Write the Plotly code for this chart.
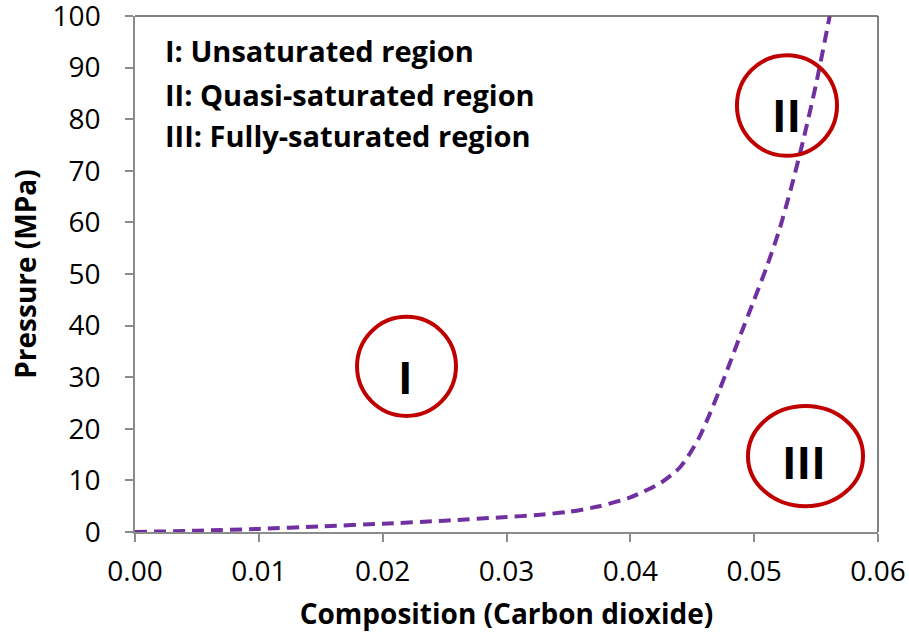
import plotly.graph_objects as go

# Data
composition = [0.0, 0.005, 0.01, 0.015, 0.02, 0.025, 0.03, 0.0325, 0.035, 0.0375, 0.04,
               0.0425, 0.044, 0.0448, 0.0456, 0.0464, 0.0472, 0.048, 0.0488,
               0.050, 0.051, 0.052, 0.053, 0.054, 0.055, 0.0561]
pressure = [0.0, 0.25, 0.6, 1.1, 1.6, 2.2, 2.9, 3.3, 3.9, 5.0, 6.7,
            9.6, 12.5, 15.2, 18.5, 22.8, 27.5, 32.5, 37.6,
            45.0, 51.3, 58.3, 66.8, 76.3, 86.8, 100.0]

x_ticks = [0.00, 0.01, 0.02, 0.03, 0.04, 0.05, 0.06]
y_ticks = [0, 10, 20, 30, 40, 50, 60, 70, 80, 90, 100]

legend_lines = ["I: Unsaturated region",
                "II: Quasi-saturated region",
                "III: Fully-saturated region"]
legend_y = [93.4, 84.8, 76.8]

region_labels = ["I", "II", "III"]
region_x = [0.02188, 0.05263, 0.05403]
region_y = [30.0, 80.8, 13.6]
# circle extents (x0, x1, y0, y1) in data units
circles = [(0.01793, 0.02592, 22.5, 41.7),
           (0.04861, 0.05669, 72.9, 92.4),
           (0.04950, 0.05879, 5.0, 24.4)]

FONT = "Open Sans"

fig = go.Figure()
fig.add_trace(go.Scatter(
    x=composition, y=pressure, mode="lines",
    line=dict(color="#7030A0", width=4, dash="12px,7px", shape="spline", smoothing=0.7),
    showlegend=False, hoverinfo="skip"))

for (x0, x1, y0, y1) in circles:
    fig.add_shape(type="circle", xref="x", yref="y", x0=x0, x1=x1, y0=y0, y1=y1,
                  line=dict(color="#C00000", width=4), fillcolor="rgba(0,0,0,0)")

for lab, xx, yy in zip(region_labels, region_x, region_y):
    fig.add_annotation(x=xx, y=yy, xref="x", yref="y", text=lab, showarrow=False,
                       font=dict(family=FONT, size=44, color="black", weight="bold"),
                       xanchor="center", yanchor="middle")

for txt, yy in zip(legend_lines, legend_y):
    fig.add_annotation(x=0.0023, y=yy, xref="x", yref="y", text=txt, showarrow=False,
                       font=dict(family=FONT, size=29, color="black", weight="bold"),
                       xanchor="left", yanchor="middle")

# top and right border of plot area
fig.add_shape(type="line", xref="paper", yref="paper", x0=0, x1=1, y0=1, y1=1,
              line=dict(color="#595959", width=1.5))
fig.add_shape(type="line", xref="paper", yref="paper", x0=1, x1=1, y0=0, y1=1,
              line=dict(color="#595959", width=1.5))

fig.update_layout(
    width=909, height=641,
    margin=dict(l=135, r=31, t=16, b=109, autoexpand=False),
    plot_bgcolor="white", paper_bgcolor="white",
    font=dict(family=FONT, color="black"),
    xaxis=dict(range=[0, 0.06], tickvals=x_ticks,
               ticktext=[f"{v:.2f}" for v in x_ticks],
               showgrid=False, zeroline=False, showline=True, automargin=False,
               linecolor="#8c8c8c", linewidth=1.5,
               ticks="outside", ticklen=8, tickcolor="#8c8c8c", tickwidth=1.5,
               ticklabelstandoff=6, ticklabeloverflow="allow",
               tickfont=dict(size=28, family=FONT, color="black"),
               title=dict(text="Composition (Carbon dioxide)",
                          font=dict(size=28, family=FONT, color="black", weight="bold"),
                          standoff=16)),
    yaxis=dict(range=[0, 100], tickvals=y_ticks,
               showgrid=False, zeroline=False, showline=True, automargin=False,
               linecolor="#8c8c8c", linewidth=1.5,
               ticks="outside", ticklen=8, tickcolor="#8c8c8c", tickwidth=1.5,
               ticklabelstandoff=19, ticklabeloverflow="allow",
               tickfont=dict(size=28, family=FONT, color="black"),
               title=dict(text="Pressure (MPa)",
                          font=dict(size=28, family=FONT, color="black", weight="bold"),
                          standoff=8)),
)

fig.write_html("out.html")
